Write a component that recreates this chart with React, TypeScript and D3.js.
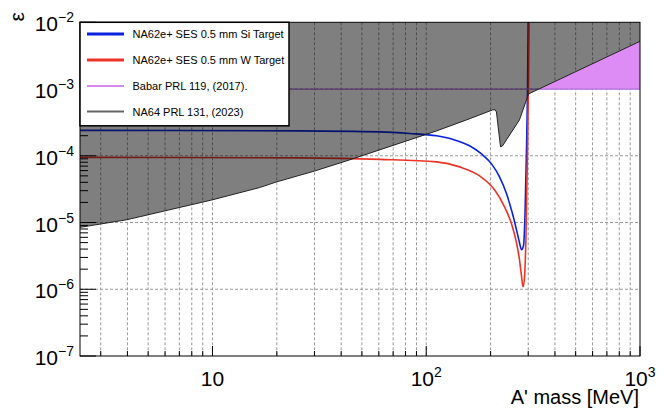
import React from "react";
import * as d3 from "d3";

// ---------- data ----------
// NA64e+ SES Si target (mass MeV, epsilon)
const siMass = [2.4, 25.6, 60.6, 83.6, 111.8, 135.7, 159.4, 181.4, 202.0, 220.2, 237.5, 253.3, 264.4, 273.1, 279.0, 285.1, 289.7, 294.4, 297.7, 299.9];
const siEps = [2.40e-4, 2.36e-4, 2.28e-4, 2.16e-4, 1.99e-4, 1.73e-4, 1.41e-4, 1.067e-4, 7.56e-5, 4.83e-5, 2.69e-5, 1.35e-5, 7.77e-6, 4.97e-6, 3.90e-6, 4.48e-6, 1.30e-5, 1.225e-4, 9.69e-4, 1e-2];

// NA64e+ SES W target
const wMass = [2.4, 25.6, 60.6, 111.8, 143.2, 177.6, 208.7, 232.4, 250.6, 264.4, 273.1, 279.0, 283.6, 288.2, 292.9, 297.7, 300.9, 302.5];
const wEps = [9.46e-5, 9.30e-5, 8.83e-5, 8.10e-5, 6.82e-5, 5.0e-5, 3.09e-5, 1.72e-5, 9.56e-6, 4.97e-6, 2.76e-6, 1.59e-6, 1.09e-6, 1.49e-6, 6.54e-6, 1.225e-4, 1.37e-3, 1e-2];

// NA64 PRL 131 (2023) exclusion boundary
const na64Mass = [2.4, 3.97, 10.0, 16.6, 20.0, 30.0, 43.8, 111.8, 154.4, 204.0, 210.0, 213.0, 222.6, 227.5, 273.0, 301.0, 1000];
const na64Eps = [8.47e-6, 1.10e-5, 2.19e-5, 3.34e-5, 4.07e-5, 5.9e-5, 8.68e-5, 2.36e-4, 3.45e-4, 4.86e-4, 4.9e-4, 4.54e-4, 1.36e-4, 1.41e-4, 3.45e-4, 8.45e-4, 5.19e-3];

// Babar PRL 119 (2017)
const babarEps = 1e-3;

const xDomain = [2.4, 1000];
const yDomain = [1e-7, 1e-2];

const xTickLabels = [
  { v: 10, base: "10", exp: "" },
  { v: 100, base: "10", exp: "2" },
  { v: 1000, base: "10", exp: "3" },
];
const yTickLabels = [
  { v: 1e-2, base: "10", exp: "\u22122" },
  { v: 1e-3, base: "10", exp: "\u22123" },
  { v: 1e-4, base: "10", exp: "\u22124" },
  { v: 1e-5, base: "10", exp: "\u22125" },
  { v: 1e-6, base: "10", exp: "\u22126" },
  { v: 1e-7, base: "10", exp: "\u22127" },
];

const legendItems = [
  { label: "NA62e+ SES 0.5 mm Si Target", color: "#0a22dd", width: 3 },
  { label: "NA62e+ SES 0.5 mm W Target", color: "#ec3426", width: 3 },
  { label: "Babar PRL 119, (2017).", color: "#d48af2", width: 2 },
  { label: "NA64 PRL 131, (2023)", color: "#666666", width: 2 },
];

const W = 669;
const H = 413;
const FONT = "'Liberation Sans', Arial, Helvetica, sans-serif";

export default function App() {
  const L = 80, R = 640, T = 22.3, B = 356;
  const x = d3.scaleLog().domain(xDomain).range([L, R]);
  const y = d3.scaleLog().domain(yDomain).range([B, T]);

  const si = siMass.map((m, i) => [m, siEps[i]] as [number, number]);
  const wt = wMass.map((m, i) => [m, wEps[i]] as [number, number]);
  const na = na64Mass.map((m, i) => [m, na64Eps[i]] as [number, number]);

  const line = d3
    .line<[number, number]>()
    .x((d) => x(d[0]))
    .y((d) => y(d[1]))
    .curve(d3.curveMonotoneX);
  const straight = d3
    .line<[number, number]>()
    .x((d) => x(d[0]))
    .y((d) => y(d[1]));
  const areaAbove = d3
    .area<[number, number]>()
    .x((d) => x(d[0]))
    .y0(y(yDomain[1]))
    .y1((d) => y(d[1]));
  const areaBelow = d3
    .area<[number, number]>()
    .x((d) => x(d[0]))
    .y0(y(yDomain[0]))
    .y1((d) => y(d[1]));

  const xTicks = x.ticks();
  const yTicks = y.ticks();
  const yMajorVals = yTickLabels.map((t) => t.v);
  const xMajorVals = xTickLabels.map((t) => t.v);
  const isYMajor = (v: number) => yMajorVals.some((m) => Math.abs(Math.log10(v) - Math.log10(m)) < 1e-6);
  const isXMajor = (v: number) => xMajorVals.some((m) => Math.abs(Math.log10(v) - Math.log10(m)) < 1e-6);

  const gridX = xTicks.filter((v) => x(v) > L + 0.5 && x(v) < R - 0.5);
  const gridY = yTicks.filter((v) => isYMajor(v) && y(v) > T + 0.5 && y(v) < B - 0.5);

  const legX = L, legY = T, legW = 209, legH = 103.5;
  const legRowY = [34, 60, 86, 111.5];

  return (
    <svg width={W} height={H} style={{ position: "absolute", left: 0, top: 0, background: "#fff" }} fontFamily={FONT}>
      <defs>
        <clipPath id="plotClip">
          <rect x={L} y={T} width={R - L} height={B - T} />
        </clipPath>
        <clipPath id="belowNA64">
          <path d={areaBelow(na) || ""} />
        </clipPath>
      </defs>
      <rect x={0} y={0} width={W} height={H} fill="#fff" />

      {/* grid */}
      <g stroke="#9a9a9a" strokeWidth={1} strokeDasharray="3,2">
        {gridX.map((v, i) => (
          <line key={"gx" + i} x1={x(v)} x2={x(v)} y1={T} y2={B} />
        ))}
        {gridY.map((v, i) => (
          <line key={"gy" + i} x1={L} x2={R} y1={y(v)} y2={y(v)} />
        ))}
      </g>

      <g clipPath="url(#plotClip)">
        {/* Babar excluded region (visible only outside NA64 region) */}
        <g clipPath="url(#belowNA64)">
          <rect x={L} y={y(yDomain[1])} width={R - L} height={y(babarEps) - y(yDomain[1])} fill="#dc8cf4" />
        </g>
        {/* sensitivity curves */}
        <path d={line(si) || ""} fill="none" stroke="#0a22dd" strokeWidth={1.6} />
        <path d={line(wt) || ""} fill="none" stroke="#ec3426" strokeWidth={1.6} />
        {/* Babar line */}
        <line x1={L} x2={R} y1={y(babarEps)} y2={y(babarEps)} stroke="#b070e0" strokeWidth={1.2} />
        {/* NA64 excluded region */}
        <path d={areaAbove(na) || ""} fill="#000" fillOpacity={0.5} stroke="none" />
        <path d={straight(na) || ""} fill="none" stroke="#222" strokeWidth={1} />
      </g>

      {/* frame */}
      <rect x={L} y={T} width={R - L} height={B - T} fill="none" stroke="#000" strokeWidth={1} />

      {/* ticks */}
      <g stroke="#000" strokeWidth={1}>
        {xTicks.filter((v) => x(v) > L + 0.5).map((v, i) => (
          <line key={"xt" + i} x1={x(v)} x2={x(v)} y1={B} y2={B - (isXMajor(v) ? 10 : 5)} />
        ))}
        {yTicks.map((v, i) => (
          <line key={"yt" + i} x1={L} x2={L + (isYMajor(v) ? 16 : 8)} y1={y(v)} y2={y(v)} />
        ))}
      </g>

      {/* x tick labels */}
      {xTickLabels.map((t, i) => (
        <text key={"xl" + i} x={x(t.v)} y={386} fontSize={21} textAnchor="middle" fill="#000">
          {t.base}
          {t.exp && (
            <tspan fontSize={14} dy={-9}>
              {t.exp}
            </tspan>
          )}
        </text>
      ))}
      {/* y tick labels */}
      {yTickLabels.map((t, i) => (
        <text key={"yl" + i} x={74} y={y(t.v) + 9} fontSize={21} textAnchor="end" fill="#000">
          {t.base}
          <tspan fontSize={14} dy={-9}>
            {t.exp}
          </tspan>
        </text>
      ))}

      {/* axis titles */}
      <text x={639} y={404} fontSize={20} textAnchor="end" fill="#000">
        A' mass [MeV]
      </text>
      <text transform="translate(24,12) rotate(-90)" fontSize={21} textAnchor="end" fill="#000">
        ε
      </text>

      {/* legend */}
      <rect x={legX} y={legY} width={legW} height={legH} fill="#fff" stroke="#000" strokeWidth={1.5} />
      {legendItems.map((it, i) => (
        <g key={"lg" + i}>
          <line x1={87} x2={124} y1={legRowY[i]} y2={legRowY[i]} stroke={it.color} strokeWidth={it.width} />
          <text x={132.5} y={legRowY[i] + 4} fontSize={11} fill="#000">
            {it.label}
          </text>
        </g>
      ))}
    </svg>
  );
}
